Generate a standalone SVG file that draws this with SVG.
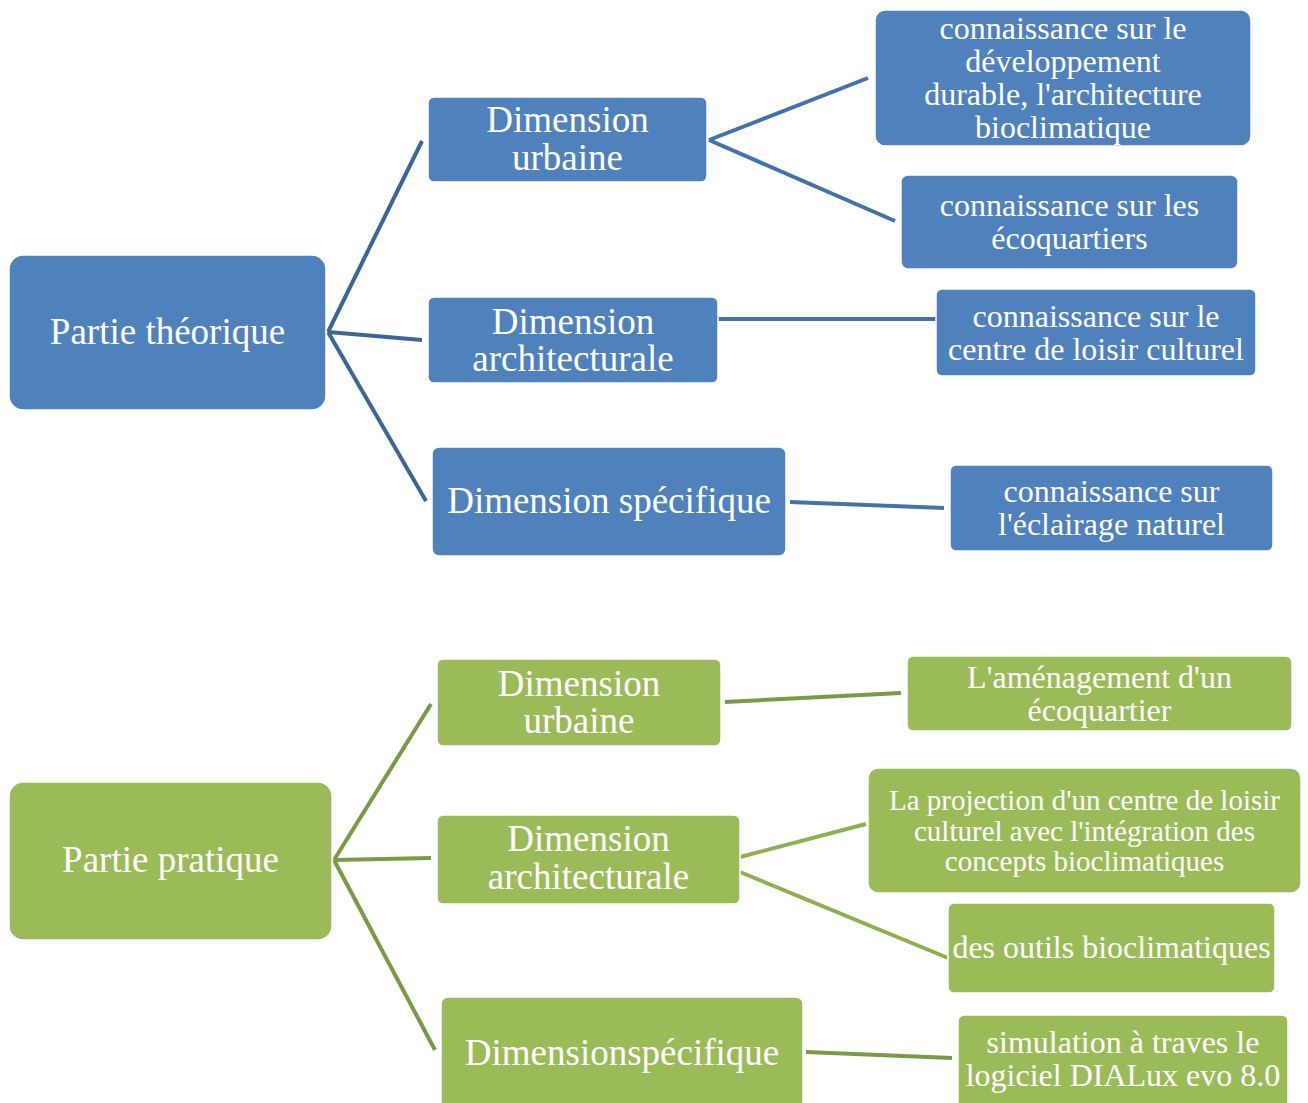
<svg xmlns="http://www.w3.org/2000/svg" width="1308" height="1103" viewBox="0 0 1308 1103">
<style>
.b rect{fill:#4f81bd;stroke:#ffffff;stroke-width:1.5}
.g rect{fill:#9bbb59;stroke:#ffffff;stroke-width:1.5}
text{font-family:"Liberation Serif","Times New Roman",serif;fill:#ffffff;text-anchor:middle}
.l1{font-size:37px}
.l2{font-size:32px}
.l3{font-size:29px}
#connectors line{stroke-width:4;stroke-linecap:butt;fill:none}
.cb1{stroke:#3d6596}
.cb2{stroke:#4672aa}
.cg1{stroke:#7a9a45}
.cg2{stroke:#8fb052}
</style>
<rect x="0" y="0" width="1308" height="1103" fill="#ffffff"/>
<g id="connectors">
<line class="cb1" x1="328" y1="332" x2="422" y2="141"/>
<line class="cb1" x1="328" y1="332" x2="422" y2="340"/>
<line class="cb1" x1="328" y1="332" x2="426" y2="501"/>
<line class="cb2" x1="709" y1="140" x2="868" y2="78"/>
<line class="cb2" x1="709" y1="140" x2="895" y2="221"/>
<line class="cb2" x1="718" y1="319" x2="936" y2="319"/>
<line class="cb2" x1="790" y1="502" x2="944" y2="508"/>
<line class="cg1" x1="334" y1="860" x2="431" y2="704"/>
<line class="cg1" x1="334" y1="860" x2="431" y2="858"/>
<line class="cg1" x1="334" y1="860" x2="435" y2="1050"/>
<line class="cg1" x1="725" y1="702" x2="901" y2="693"/>
<line class="cg2" x1="740" y1="857" x2="866" y2="824"/>
<line class="cg2" x1="740" y1="872" x2="948" y2="958"/>
<line class="cg1" x1="806" y1="1052" x2="952" y2="1058"/>
</g>
<g id="n-theorique" class="b"><rect x="9" y="255" width="317" height="155" rx="14"/><text class="l1" x="167.5" y="344">Partie théorique</text></g>
<g id="n-t-urbaine" class="b"><rect x="428" y="97" width="279" height="85" rx="6"/><text class="l1" x="567.5" y="132">Dimension</text><text class="l1" x="567.5" y="170">urbaine</text></g>
<g id="n-t-archi" class="b"><rect x="428" y="297" width="290" height="86" rx="6"/><text class="l1" x="573" y="334">Dimension</text><text class="l1" x="573" y="371">architecturale</text></g>
<g id="n-t-spec" class="b"><rect x="432" y="447" width="354" height="109" rx="7"/><text class="l1" x="609" y="513">Dimension spécifique</text></g>
<g id="n-t-dev" class="b"><rect x="875" y="10" width="376" height="136" rx="10"/><text class="l2" x="1063" y="39">connaissance sur le</text><text class="l2" x="1063" y="72">développement</text><text class="l2" x="1063" y="105">durable, l'architecture</text><text class="l2" x="1063" y="138">bioclimatique</text></g>
<g id="n-t-eco" class="b"><rect x="901" y="175" width="337" height="94" rx="7"/><text class="l2" x="1069.5" y="216">connaissance sur les</text><text class="l2" x="1069.5" y="249">écoquartiers</text></g>
<g id="n-t-loisir" class="b"><rect x="936" y="289" width="320" height="87" rx="6"/><text class="l2" x="1096" y="327">connaissance sur le</text><text class="l2" x="1096" y="360">centre de loisir culturel</text></g>
<g id="n-t-eclairage" class="b"><rect x="950" y="465" width="323" height="86" rx="6"/><text class="l2" x="1111.5" y="502">connaissance sur</text><text class="l2" x="1111.5" y="535">l'éclairage naturel</text></g>
<g id="n-pratique" class="g"><rect x="9" y="782" width="323" height="158" rx="14"/><text class="l1" x="170.5" y="872">Partie pratique</text></g>
<g id="n-p-urbaine" class="g"><rect x="437" y="659" width="284" height="87" rx="6"/><text class="l1" x="579" y="696">Dimension</text><text class="l1" x="579" y="733">urbaine</text></g>
<g id="n-p-archi" class="g"><rect x="437" y="815" width="303" height="89" rx="6"/><text class="l1" x="588.5" y="851">Dimension</text><text class="l1" x="588.5" y="889">architecturale</text></g>
<g id="n-p-spec" class="g"><rect x="441" y="997" width="362" height="120" rx="7"/><text class="l1" x="622" y="1065">Dimensionspécifique</text></g>
<g id="n-p-amenagement" class="g"><rect x="907" y="656" width="385" height="75" rx="6"/><text class="l2" x="1099.5" y="688">L'aménagement d'un</text><text class="l2" x="1099.5" y="721">écoquartier</text></g>
<g id="n-p-projection" class="g"><rect x="868" y="768" width="433" height="125" rx="10"/><text class="l3" x="1084.5" y="810">La projection d'un centre de loisir</text><text class="l3" x="1084.5" y="841">culturel avec l'intégration des</text><text class="l3" x="1084.5" y="871">concepts bioclimatiques</text></g>
<g id="n-p-outils" class="g"><rect x="948" y="903" width="327" height="90" rx="6"/><text class="l2" x="1111.5" y="958">des outils bioclimatiques</text></g>
<g id="n-p-simulation" class="g"><rect x="958" y="1015" width="330" height="100" rx="6"/><text class="l2" x="1123" y="1053">simulation à traves le</text><text class="l2" x="1123" y="1086">logiciel DIALux evo 8.0</text></g>
</svg>
